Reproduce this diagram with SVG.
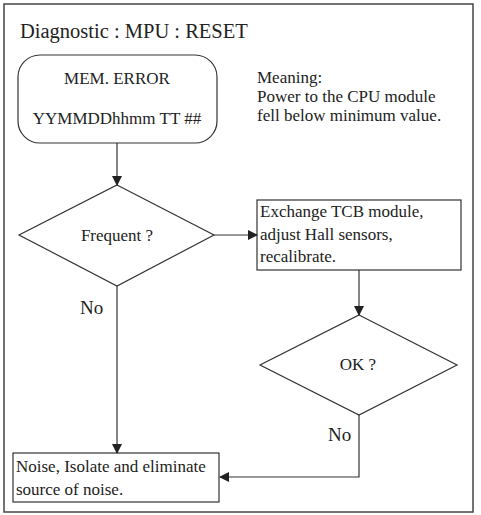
<svg xmlns="http://www.w3.org/2000/svg" width="481" height="515" viewBox="0 0 481 515">
<style>
.s{fill:#fff;stroke:#333;stroke-width:1.2}
.c{fill:none;stroke:#333;stroke-width:1.2}
text{font-family:"Liberation Serif","Times New Roman",serif;fill:#222;font-size:17px}
.m{text-anchor:middle}
</style>
<defs>
<marker id="ah" markerWidth="10" markerHeight="10" refX="9" refY="5" orient="auto" markerUnits="userSpaceOnUse">
<path d="M0,0 L10,5 L0,10 z" fill="#222"/>
</marker>
</defs>
<rect x="4" y="4" width="469" height="508" fill="#fff" stroke="#444" stroke-width="1.5"/>
<text x="20" y="38" style="font-size:20.5px">Diagnostic : MPU : RESET</text>
<g id="start">
<rect class="s" x="18" y="55" width="199" height="88" rx="22"/>
<text class="m" x="117" y="84">MEM. ERROR</text>
<text class="m" x="117" y="124">YYMMDDhhmm TT ##</text>
</g>
<g id="meaning">
<text x="257" y="83">Meaning:</text>
<text x="257" y="102">Power to the CPU module</text>
<text x="257" y="121">fell below minimum value.</text>
</g>
<g id="frequent">
<polygon class="s" points="117,185 214,235 117,286 19,235"/>
<text class="m" x="117" y="241">Frequent ?</text>
</g>
<g id="exchange">
<rect class="s" x="257" y="200" width="204" height="70"/>
<text x="260" y="217">Exchange TCB module,</text>
<text x="260" y="240">adjust Hall sensors,</text>
<text x="260" y="262">recalibrate.</text>
</g>
<g id="ok">
<polygon class="s" points="359,315 457,365 359,415 260,365"/>
<text class="m" x="358" y="370">OK ?</text>
</g>
<g id="noise">
<rect class="s" x="13" y="453" width="206" height="49"/>
<text x="16" y="472">Noise, Isolate and eliminate</text>
<text x="16" y="495">source of noise.</text>
</g>
<g id="connectors">
<path class="c" d="M117,143 V185" marker-end="url(#ah)"/>
<path class="c" d="M214,235 H257" marker-end="url(#ah)"/>
<path class="c" d="M359,270 V315" marker-end="url(#ah)"/>
<path class="c" d="M117,286 V453" marker-end="url(#ah)"/>
<path class="c" d="M359,415 V477 H220" marker-end="url(#ah)"/>
<text x="80" y="314" style="font-size:19px">No</text>
<text x="328" y="441" style="font-size:19px">No</text>
</g>
</svg>
